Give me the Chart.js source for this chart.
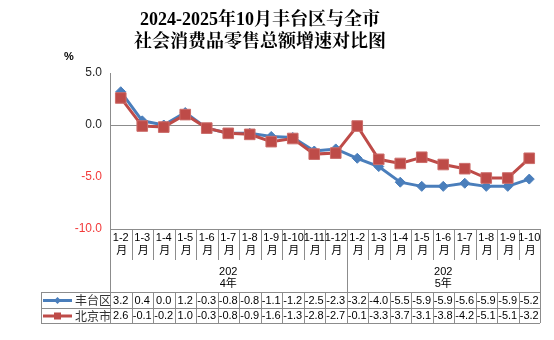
<!DOCTYPE html>
<html><head><meta charset="utf-8">
<script src="https://cdn.jsdelivr.net/npm/chart.js@4.4.1/dist/chart.umd.min.js"></script>
<style>html,body{margin:0;padding:0;background:#fff}#wrap{width:554px;height:340px;position:relative}</style>
</head><body><div id="wrap"><canvas id="c" width="554" height="340"></canvas></div>
<script>
const titleLines = ['2024-2025年10月丰台区与全市', '社会消费品零售总额增速对比图'];
const unitLabel = '%';
const categories = ['1-2','1-3','1-4','1-5','1-6','1-7','1-8','1-9','1-10','1-11','1-12','1-2','1-3','1-4','1-5','1-6','1-7','1-8','1-9','1-10'];
const monthSuffix = '月';
const groupLabels = ['2024年', '2025年'];
const groupSizes = [11, 9];
const seriesNames = ['丰台区', '北京市'];
const fengtai = [3.2, 0.4, 0.0, 1.2, -0.3, -0.8, -0.8, -1.1, -1.2, -2.5, -2.3, -3.2, -4.0, -5.5, -5.9, -5.9, -5.6, -5.9, -5.9, -5.2];
const beijing = [2.6, -0.1, -0.2, 1.0, -0.3, -0.8, -0.9, -1.6, -1.3, -2.8, -2.7, -0.1, -3.3, -3.7, -3.1, -3.8, -4.2, -5.1, -5.1, -3.2];
const yMin = -10, yMax = 5, yStep = 5;

const BLUE = '#4A7EBB', RED = '#BE4B48', GRID = '#8C8C8C';
const NUM_FONT = '11px "Liberation Sans", Arial, sans-serif';
const CJK_FONT = '11px "Noto Sans CJK SC", sans-serif';

const tablePlugin = {
  id: 'tablePlugin',
  afterDraw(chart) {
    const ctx = chart.ctx;
    const xs = chart.scales.x, ca = chart.chartArea;
    const n = categories.length;
    const w = (ca.right - ca.left) / n;
    const axisY = ca.bottom;
    const catBottom = 260, tableTop = 292, rowMid = 308, tableBottom = 323, tableLeft = 41;
    ctx.save();
    // title
    ctx.fillStyle = '#000';
    ctx.textAlign = 'center'; ctx.textBaseline = 'middle';
    ctx.font = 'bold 18px "Liberation Serif", "Noto Serif CJK SC", "Noto Sans CJK SC", serif';
    ctx.fillText(titleLines[0], 260, 20);
    ctx.fillText(titleLines[1], 260, 42);
    ctx.font = 'bold 11px "Liberation Sans", Arial, sans-serif';
    ctx.fillText(unitLabel, 69, 57);

    ctx.strokeStyle = GRID; ctx.lineWidth = 1;
    const line = (x1, y1, x2, y2) => { ctx.beginPath(); ctx.moveTo(x1, y1); ctx.lineTo(x2, y2); ctx.stroke(); };
    const px = v => Math.round(v) + 0.5;
    // axis line
    line(ca.left, px(axisY), ca.right, px(axisY));
    let acc = 0;
    const groupEdges = [0];
    groupSizes.forEach(s => { acc += s; groupEdges.push(acc); });
    for (let i = 0; i <= n; i++) {
      const x = px(ca.left + i * w);
      const isGroup = groupEdges.includes(i);
      line(x, axisY, x, isGroup ? tableTop : catBottom);
      line(x, tableTop, x, tableBottom);
    }
    line(px(ca.left), ca.top, px(ca.left), tableBottom);
    line(tableLeft, px(tableTop), ca.right, px(tableTop));
    line(tableLeft, px(rowMid), ca.right, px(rowMid));
    line(tableLeft, px(tableBottom), ca.right, px(tableBottom));
    line(px(tableLeft), tableTop, px(tableLeft), tableBottom);

    // category labels
    ctx.fillStyle = '#000';
    categories.forEach((c, i) => {
      const cx = xs.getPixelForValue(i);
      ctx.font = NUM_FONT; ctx.fillText(c, cx, 238);
      ctx.font = CJK_FONT; ctx.fillText(monthSuffix, cx + 1, 250);
    });
    // group labels
    groupLabels.forEach((g, gi) => {
      const x0 = ca.left + groupEdges[gi] * w, x1 = ca.left + groupEdges[gi + 1] * w;
      const cx = (x0 + x1) / 2;
      ctx.font = NUM_FONT; ctx.fillText(g.slice(0, 3), cx, 272);
      ctx.font = '11px "Liberation Sans", "Noto Sans CJK SC", sans-serif'; ctx.fillText(g.slice(3), cx, 284);
    });
    // table values
    const rows = [fengtai, beijing];
    const rowY = [300.5, 316];
    const colors = [BLUE, RED];
    rows.forEach((r, ri) => {
      ctx.fillStyle = '#000'; ctx.font = NUM_FONT;
      r.forEach((v, i) => ctx.fillText(v.toFixed(1), xs.getPixelForValue(i), rowY[ri]));
      ctx.strokeStyle = colors[ri]; ctx.lineWidth = 3;
      line(43, rowY[ri], 72, rowY[ri]);
      ctx.fillStyle = colors[ri];
      if (ri === 0) {
        ctx.beginPath(); ctx.moveTo(57.5, rowY[ri] - 3.5); ctx.lineTo(61, rowY[ri]); ctx.lineTo(57.5, rowY[ri] + 3.5); ctx.lineTo(54, rowY[ri]); ctx.closePath(); ctx.fill();
      } else {
        ctx.fillRect(54, rowY[ri] - 3.5, 7, 7);
      }
      ctx.fillStyle = '#333'; ctx.font = '12px "Noto Sans CJK SC", sans-serif';
      ctx.textAlign = 'left';
      ctx.fillText(seriesNames[ri], 75, rowY[ri]);
      ctx.textAlign = 'center';
    });
    ctx.restore();
  }
};

new Chart(document.getElementById('c'), {
  type: 'line',
  data: {
    labels: categories,
    datasets: [
      { label: seriesNames[0], data: fengtai, borderColor: BLUE, backgroundColor: BLUE, borderWidth: 3,
        pointStyle: 'rectRot', pointRadius: 5, pointBorderWidth: 1, pointBorderColor: BLUE, order: 2, tension: 0 },
      { label: seriesNames[1], data: beijing, borderColor: RED, backgroundColor: RED, borderWidth: 3,
        pointStyle: 'rect', pointRadius: 7.5, pointBorderWidth: 1, pointBorderColor: '#CC6D6A', order: 1, tension: 0 }
    ]
  },
  options: {
    responsive: false,
    animation: false,
    events: [],
    layout: { padding: { top: 73, bottom: 111, right: 14, left: 0 } },
    plugins: { legend: { display: false }, title: { display: false }, tooltip: { enabled: false } },
    scales: {
      x: { type: 'category', display: false, offset: true },
      y: {
        min: yMin, max: yMax,
        afterFit(s) { s.width = 110; },
        border: { display: true, color: GRID, width: 1 },
        grid: { drawTicks: false, color: c => (c.tick && c.tick.value === 0) ? GRID : 'rgba(0,0,0,0)', lineWidth: 1 },
        ticks: { stepSize: yStep, padding: 8, font: { family: '"Liberation Sans", Arial, sans-serif', size: 12 },
          color: c => c.tick.value < 0 ? '#F23A3A' : '#262626',
          callback: v => Number(v).toFixed(1) }
      }
    }
  },
  plugins: [tablePlugin]
});
</script></body></html>
